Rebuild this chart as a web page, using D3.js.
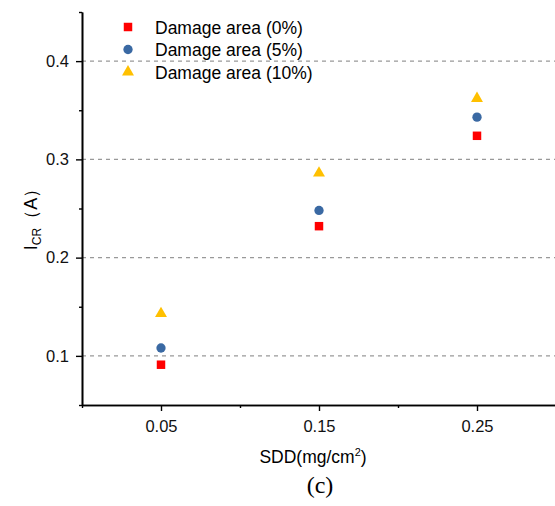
<!DOCTYPE html>
<html>
<head>
<meta charset="utf-8">
<script src="https://cdn.jsdelivr.net/npm/d3@7"></script>
<style>
  body { margin: 0; background: #fff; }
  text { font-family: Arial, "Liberation Sans", sans-serif; }
  .tick text { font-size: 16.5px; fill: #111; }
  .grid line { stroke: #999; stroke-dasharray: 4,4; stroke-width: 1.2; }
</style>
</head>
<body>
<svg id="chart"></svg>
<script>
//values
var sddValues = [0.05, 0.15, 0.25]
var seriesNames = ["Damage area (0%)", "Damage area (5%)", "Damage area (10%)"]
var damage0 = [0.091, 0.232, 0.324]
var damage5 = [0.108, 0.248, 0.343]
var damage10 = [0.143, 0.286, 0.362]
var xTicks = [0.05, 0.15, 0.25]
var xMinorTicks = [0, 0.1, 0.2]
var yTicks = [0.1, 0.2, 0.3, 0.4]
var yMinorTicks = [0.05, 0.15, 0.25, 0.35, 0.45]

var screen = {width:555, height:506}
var plot = {left:82, right:556, top:12, bottom:405}

var svg = d3.select("#chart")
    .attr("width", screen.width)
    .attr("height", screen.height)

var xScale = d3.scaleLinear()
    .domain([0, 0.3])
    .range([plot.left, plot.right])

var yScale = d3.scaleLinear()
    .domain([0.05, 0.45])
    .range([plot.bottom, plot.top])

//dashed grid at the major y ticks
svg.append("g")
   .classed("grid", true)
   .selectAll("line")
   .data(yTicks)
   .enter()
   .append("line")
   .attr("x1", plot.left)
   .attr("x2", screen.width)
   .attr("y1", function(d){return yScale(d)})
   .attr("y2", function(d){return yScale(d)})

var styleAxis = function(g)
{
    g.select(".domain").attr("stroke", "#000").attr("stroke-width", 1.6)
    g.selectAll(".tick line").attr("stroke", "#000").attr("stroke-width", 1.4)
}

//minor ticks
svg.append("g")
   .attr("transform", "translate(" + plot.left + ",0)")
   .call(d3.axisLeft(yScale).tickValues(yMinorTicks).tickSize(3).tickSizeOuter(0).tickFormat(""))
   .call(styleAxis)
svg.append("g")
   .attr("transform", "translate(0," + plot.bottom + ")")
   .call(d3.axisBottom(xScale).tickValues(xMinorTicks).tickSize(3).tickSizeOuter(0).tickFormat(""))
   .call(styleAxis)

//major ticks
svg.append("g")
   .attr("transform", "translate(" + plot.left + ",0)")
   .call(d3.axisLeft(yScale).tickValues(yTicks).tickSize(6).tickSizeOuter(0).tickPadding(7).tickFormat(d3.format(".1f")))
   .call(styleAxis)
svg.append("g")
   .attr("transform", "translate(0," + plot.bottom + ")")
   .call(d3.axisBottom(xScale).tickValues(xTicks).tickSize(6).tickSizeOuter(0).tickPadding(9).tickFormat(d3.format(".2f")))
   .call(styleAxis)

//series
var series = [
    {name:seriesNames[0], values:damage0, symbol:d3.symbolSquare, size:72, color:"#ff0000"},
    {name:seriesNames[1], values:damage5, symbol:d3.symbolCircle, size:68, color:"#3a69a3"},
    {name:seriesNames[2], values:damage10, symbol:d3.symbolTriangle, size:62, color:"#ffc000"}
]

series.forEach(function(s)
{
    svg.append("g")
       .selectAll("path")
       .data(sddValues)
       .enter()
       .append("path")
       .attr("d", d3.symbol().type(s.symbol).size(s.size))
       .attr("fill", s.color)
       .attr("transform", function(d, i)
       {
           return "translate(" + xScale(d) + "," + yScale(s.values[i]) + ")"
       })
})

//legend
var legend = svg.append("g")
    .attr("transform", "translate(128,27)")

var entries = legend.selectAll("g")
    .data(series)
    .enter()
    .append("g")
    .attr("transform", function(d, i){return "translate(0," + (i*22.5) + ")"})

entries.append("path")
    .attr("d", function(d){return d3.symbol().type(d.symbol).size(d.size)()})
    .attr("fill", function(d){return d.color})

entries.append("text")
    .text(function(d){return d.name})
    .attr("x", 27)
    .attr("y", 6.5)
    .attr("font-size", "17.5px")
    .attr("fill", "#000")

//x label
var xLabel = svg.append("text")
    .attr("x", 313)
    .attr("y", 463)
    .attr("text-anchor", "middle")
    .attr("font-size", "17.5px")
xLabel.append("tspan").text("SDD(mg/cm")
xLabel.append("tspan").text("2").attr("font-size", "11px").attr("dy", "-7")
xLabel.append("tspan").text(")").attr("dy", "7")

//y label
var yLabel = svg.append("text")
    .attr("transform", "translate(37,215) rotate(-90)")
    .attr("text-anchor", "middle")
    .attr("font-size", "18px")
yLabel.append("tspan").text("I")
yLabel.append("tspan").text("CR").attr("font-size", "12px").attr("dy", "4")
yLabel.append("tspan").text("（A）").attr("dy", "-4")

//panel caption
svg.append("text")
   .text("(c)")
   .attr("x", 320)
   .attr("y", 493)
   .attr("text-anchor", "middle")
   .attr("font-size", "24px")
   .style("font-family", "'Liberation Serif', 'Times New Roman', serif")
</script>
</body>
</html>
